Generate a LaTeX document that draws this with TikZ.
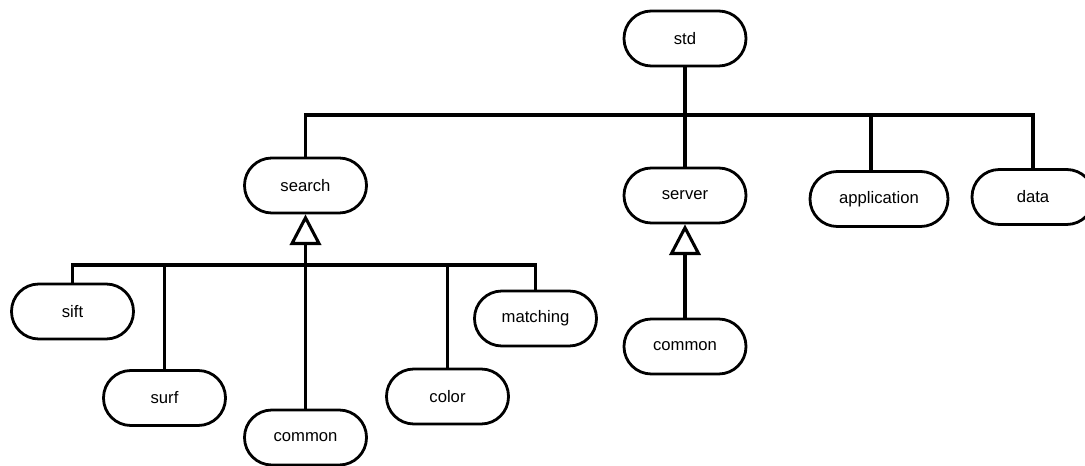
\documentclass[tikz,border=0pt]{standalone}
\usepackage{fontspec}
\setmainfont{Liberation Sans}
\usetikzlibrary{arrows.meta}
\begin{document}
\begin{tikzpicture}[x=0.75pt,y=0.75pt,yscale=-1,xscale=1,
  pkg/.style={draw, line width=2.1pt, rounded corners=20.5pt, minimum width=91.5pt, minimum height=41.25pt, inner sep=0pt, font=\fontsize{12.5}{15}\selectfont},
  link/.style={line width=2.3pt},
  inherit/.style={line width=2.3pt, -{Triangle[open, length=23pt, width=23.5pt]}}]
\useasboundingbox (0,0) rectangle (1085,466);

% Packages
\node [pkg] (std) at (685,38.5) {std};
\node [pkg] (search) at (305.5,185.5) {search};
\node [pkg] (server) at (685,195.5) {server};
\node [pkg, minimum width=103.5pt] (application) at (879,199) {application};
\node [pkg] (data) at (1033,197) {data};

% Search children
\node [pkg] (sift) at (72.5,311.5) {sift};
\node [pkg] (surf) at (164.5,398) {surf};
\node [pkg] (searchcommon) at (305.5,437.5) {common};
\node [pkg] (color) at (447.5,396.5) {color};
\node [pkg] (matching) at (535.5,318.5) {matching};

% Server children
\node [pkg] (servercommon) at (685,346.5) {common};

% Bars
\coordinate (stdbar) at (685,115);
\coordinate (searchbar) at (305.5,265);

% Std tree
\draw [link] (std.south) -- (server.north);
\draw [link] (search.north) |- (stdbar);
\draw [link] ([xshift=-6pt]application.north) |- (stdbar);
\draw [link] (data.north) |- (stdbar);

% Search tree
\draw [link] (sift.north) |- (searchbar);
\draw [link] (surf.north) |- (searchbar);
\draw [link] (searchcommon.north) -- (searchbar);
\draw [link] (color.north) |- (searchbar);
\draw [link] (matching.north) |- (searchbar);
\draw [inherit] (searchbar) -- (search.south);

% Server tree
\draw [inherit] (servercommon.north) -- (server.south);

\end{tikzpicture}
\end{document}
